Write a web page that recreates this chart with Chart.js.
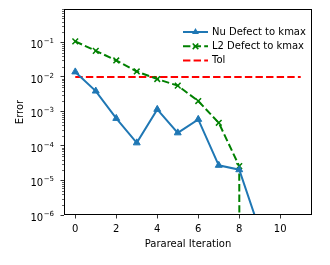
<!DOCTYPE html>
<html lang="en">
  <head>
    <meta charset="UTF-8" />
    <title>Parareal defects</title>
    <script src="https://cdn.jsdelivr.net/npm/chart.js"></script>
    <style>
      html, body { margin: 0; padding: 0; background: #fff; }
    </style>
  </head>
  <body>
    <canvas id="myChart" width="330" height="265"></canvas>
    <script>
      // values
      const iterations = [0, 1, 2, 3, 4, 5, 6, 7, 8, 9];
      const nuDefect = [1.4e-2, 3.9e-3, 6.3e-4, 1.23e-4, 1.15e-3, 2.4e-4, 5.9e-4, 2.75e-5, 2.05e-5, 3.6e-7];
      // last L2 value is zero in the source; tiny stand-in so the log line drops straight down
      const l2Defect = [0.107, 0.057, 0.030, 0.0144, 0.0087, 0.0056, 0.0020, 4.7e-4, 2.6e-5, 1e-300];
      const tolX = [0, 11];
      const tolValue = [1e-2, 1e-2];
      const xTicks = [0, 2, 4, 6, 8, 10];
      const yDecades = [-6, -5, -4, -3, -2, -1];

      const FONT = "'DejaVu Sans', sans-serif";

      const yTickValues = [];
      yDecades.forEach((e) => {
        for (let k = 1; k <= 9; k++) yTickValues.push({ value: k * Math.pow(10, e), major: k === 1 });
      });
      const isMajor = (v) => Math.abs(Math.log10(v) - Math.round(Math.log10(v))) < 1e-9;

      const pts = (xs, ys) => xs.map((x, i) => ({ x: x, y: ys[i] }));

      const boxPlugin = {
        id: "box",
        afterDraw(chart) {
          const { ctx, chartArea: a } = chart;
          const y = chart.scales.y;
          ctx.save();
          // minor y ticks
          ctx.strokeStyle = "#000";
          ctx.lineWidth = 0.6;
          y.ticks.forEach((t) => {
            const py = Math.round(y.getPixelForValue(t.value)) + 0.5;
            if (t.major) {
              // 10^n labels, mathtext style
              const e = Math.round(Math.log10(t.value));
              ctx.fillStyle = "#000";
              ctx.textAlign = "left";
              ctx.textBaseline = "alphabetic";
              ctx.font = "10px " + FONT;
              const bx = a.left - 33.5;
              ctx.fillText("10", bx, py + 5.5);
              const w = ctx.measureText("10").width;
              ctx.font = "7px " + FONT;
              ctx.fillText("\u2212" + Math.abs(e), bx + w + 0.5, py + 0.5);
              return;
            }
            ctx.beginPath();
            ctx.moveTo(a.left - 2, py);
            ctx.lineTo(a.left, py);
            ctx.stroke();
          });
          ctx.lineWidth = 1;
          ctx.strokeRect(a.left + 0.5, a.top + 0.5, a.right - a.left - 1, a.bottom - a.top - 1);

          // legend
          const x0 = a.right - 129, x1 = a.right - 104, tx = a.right - 100;
          chart.data.datasets.forEach((ds, i) => {
            const ly = a.top + 23 + i * 14.3;
            ctx.strokeStyle = ds.borderColor;
            ctx.lineWidth = ds.borderWidth;
            ctx.setLineDash(ds.borderDash || []);
            ctx.beginPath();
            ctx.moveTo(x0, ly);
            ctx.lineTo(x1, ly);
            ctx.stroke();
            ctx.setLineDash([]);
            const mx = (x0 + x1) / 2;
            if (ds.pointStyle === "triangle") {
              const r = ds.pointRadius;
              ctx.fillStyle = ds.pointBackgroundColor;
              ctx.beginPath();
              ctx.moveTo(mx, ly - r);
              ctx.lineTo(mx + r * 0.87, ly + r * 0.5);
              ctx.lineTo(mx - r * 0.87, ly + r * 0.5);
              ctx.closePath();
              ctx.fill();
            } else if (ds.pointStyle === "crossRot") {
              const r = ds.pointRadius * 0.7;
              ctx.lineWidth = ds.pointBorderWidth;
              ctx.beginPath();
              ctx.moveTo(mx - r, ly - r);
              ctx.lineTo(mx + r, ly + r);
              ctx.moveTo(mx - r, ly + r);
              ctx.lineTo(mx + r, ly - r);
              ctx.stroke();
            }
            ctx.fillStyle = "#000";
            ctx.font = "10px " + FONT;
            ctx.textBaseline = "middle";
            ctx.textAlign = "left";
            ctx.fillText(ds.label, tx, ly);
          });
          ctx.restore();
        },
      };

      new Chart(document.getElementById("myChart").getContext("2d"), {
        type: "line",
        data: {
          datasets: [
            {
              label: "Nu Defect to kmax",
              data: pts(iterations, nuDefect),
              borderColor: "#1f77b4",
              backgroundColor: "#1f77b4",
              pointBackgroundColor: "#1f77b4",
              pointBorderColor: "#1f77b4",
              borderWidth: 2,
              pointStyle: "triangle",
              pointRadius: 4,
              pointBorderWidth: 1,
            },
            {
              label: "L2 Defect to kmax",
              data: pts(iterations, l2Defect),
              borderColor: "#008000",
              backgroundColor: "#008000",
              pointBorderColor: "#008000",
              pointBackgroundColor: "#008000",
              borderWidth: 2,
              borderDash: [7.4, 3.2],
              pointStyle: "crossRot",
              pointRadius: 4,
              pointBorderWidth: 1.5,
            },
            {
              label: "Tol",
              data: pts(tolX, tolValue),
              borderColor: "#ff0000",
              borderWidth: 2,
              borderDash: [7.4, 3.2],
              pointRadius: 0,
            },
          ],
        },
        options: {
          responsive: false,
          animation: false,
          devicePixelRatio: 1,
          layout: { padding: { top: 9, right: 18, left: 0, bottom: 0 } },
          plugins: { legend: { display: false }, tooltip: { enabled: false } },
          scales: {
            x: {
              type: "linear",
              min: -0.55,
              max: 11.55,
              afterBuildTicks: (s) => { s.ticks = xTicks.map((v) => ({ value: v })); },
              afterFit: (s) => { s.height = 50; },
              grid: { drawOnChartArea: false, tickLength: 3.5, tickColor: "#000", tickWidth: 0.8 },
              border: { display: false },
              ticks: { color: "#000", padding: 5, font: { family: FONT, size: 10 }, maxRotation: 0 },
              title: { display: true, text: "Parareal Iteration", color: "#000", font: { family: FONT, size: 10 }, padding: { top: 0, bottom: 15 } },
            },
            y: {
              type: "logarithmic",
              min: 1e-6,
              max: 0.93,
              afterBuildTicks: (s) => { s.ticks = yTickValues.map((t) => ({ value: t.value, major: t.major })); },
              afterFit: (s) => { s.width = 64; },
              grid: {
                drawOnChartArea: false,
                tickLength: 3.5,
                tickWidth: 0.8,
                tickColor: (c) => (c.tick && isMajor(c.tick.value) ? "#000" : "rgba(0,0,0,0)"),
              },
              border: { display: false },
              ticks: { display: true, color: "rgba(0,0,0,0)", autoSkip: false, font: { family: FONT, size: 10 }, callback: () => "" },
              title: { display: true, text: "Error", color: "#000", font: { family: FONT, size: 10 }, padding: { top: 14, bottom: 0 } },
            },
          },
        },
        plugins: [boxPlugin],
      });
    </script>
  </body>
</html>
